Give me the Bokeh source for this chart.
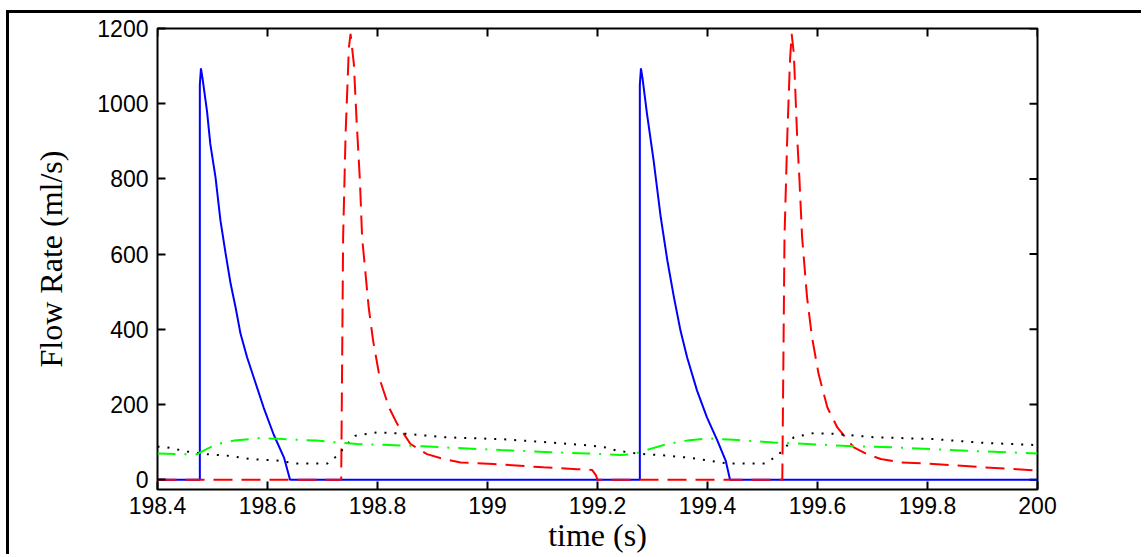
import math
from bokeh.plotting import figure
from bokeh.models import Range1d, FixedTicker
from bokeh.embed import file_html
from bokeh.resources import INLINE

# ---- data ----
blue_t = [198.400, 198.477, 198.477, 198.479, 198.482, 198.490, 198.496, 198.5055, 198.5145,
          198.524, 198.533, 198.542, 198.551, 198.563, 198.575, 198.593, 198.611, 198.630,
          198.641, 199.277, 199.277, 199.279, 199.282, 199.290, 199.302, 199.315, 199.327,
          199.339, 199.351, 199.363, 199.381, 199.399, 199.418, 199.433, 199.441, 200.000]
blue_flow = [0, 0, 1050, 1094, 1066, 980, 893, 804, 689,
             600, 521, 458, 388, 325, 272, 192, 121, 59,
             0, 0, 1050, 1094, 1066, 973, 849, 698, 583,
             485, 396, 325, 237, 166, 104, 51, 0, 0]

red_t = [198.400, 198.734, 198.7375, 198.742, 198.748, 198.751, 198.757, 198.762, 198.768,
         198.772, 198.784, 198.792, 198.805, 198.821, 198.836, 198.860, 198.890, 198.921,
         198.951, 199.011, 199.102, 199.163, 199.190, 199.197, 199.200, 199.536, 199.540,
         199.545, 199.550, 199.553, 199.557, 199.563, 199.567, 199.572, 199.581, 199.590,
         199.602, 199.618, 199.636, 199.666, 199.690, 199.715, 199.751, 199.811, 199.902,
         199.963, 200.000]
red_flow = [0, 0, 645, 920, 1150, 1186, 1106, 955, 796,
            645, 458, 370, 263, 192, 148, 95, 68, 55,
            46, 42, 33, 28, 26, 12, 0, 0, 645,
            911, 1115, 1186, 1133, 911, 804, 645, 485, 379,
            281, 192, 139, 86, 68, 55, 46, 42, 33,
            28, 24]

black_t = [198.400, 198.418, 198.454, 198.490, 198.527, 198.569, 198.618, 198.654, 198.709,
           198.727, 198.742, 198.760, 198.800, 198.854, 198.921, 199.024, 199.115, 199.193,
           199.215, 199.236, 199.266, 199.287, 199.327, 199.363, 199.399, 199.436, 199.505,
           199.527, 199.542, 199.557, 199.593, 199.630, 199.702, 199.811, 199.902, 200.000]
black_flow = [88, 86, 75, 68, 64, 55, 51, 43, 43,
              64, 90, 117, 126, 122, 113, 108, 99, 90,
              86, 77, 71, 68, 64, 59, 52, 43, 43,
              64, 86, 113, 124, 122, 113, 108, 98, 92]

green_t = [198.400, 198.436, 198.472, 198.490, 198.509, 198.539, 198.587, 198.630, 198.690,
           198.727, 198.763, 198.811, 198.884, 198.921, 199.024, 199.115, 199.181, 199.242,
           199.266, 199.296, 199.327, 199.363, 199.399, 199.448, 199.521, 199.581, 199.666,
           199.739, 199.872, 200.000]
green_flow = [70, 68, 68, 82, 95, 104, 111, 108, 104,
              99, 95, 93, 89, 86, 79, 73, 70, 66,
              68, 82, 95, 104, 110, 106, 99, 95, 89,
              86, 77, 70]

x_ticks = [198.4, 198.6, 198.8, 199.0, 199.2, 199.4, 199.6, 199.8, 200.0]
x_tick_labels = ["198.4", "198.6", "198.8", "199", "199.2", "199.4", "199.6", "199.8", "200"]
y_ticks = [0, 200, 400, 600, 800, 1000, 1200]
y_tick_labels = ["0", "200", "400", "600", "800", "1000", "1200"]

X_MIN, X_MAX = 198.4, 200.0
Y_MIN, Y_MAX = -26, 1200

p = figure(width=1135, height=544,
           x_range=Range1d(X_MIN, X_MAX), y_range=Range1d(Y_MIN, Y_MAX),
           output_backend="svg", toolbar_location=None,
           min_border_left=148, min_border_right=107,
           min_border_top=15, min_border_bottom=68)
p.margin = (10, 0, 0, 6)
p.styles = {"border-left": "3px solid black", "border-top": "3px solid black"}
p.grid.visible = False
p.outline_line_color = "black"
p.outline_line_width = 2
p.background_fill_color = "white"
p.border_fill_color = "white"


def style_axis(ax, ticks, labels):
    ax.ticker = FixedTicker(ticks=ticks)
    ax.axis_line_color = None
    ax.major_tick_in = 8
    ax.major_tick_out = 0
    ax.major_tick_line_width = 2
    ax.major_tick_line_color = "black"
    ax.minor_tick_line_color = None
    ax.major_label_overrides = dict(zip(ticks, labels))
    ax.major_label_text_font = "Liberation Sans"
    ax.major_label_text_font_size = "23px"
    ax.major_label_text_color = "black"
    ax.axis_label_text_font = "Liberation Serif"
    ax.axis_label_text_font_size = "32px"
    ax.axis_label_text_font_style = "normal"
    ax.axis_label_text_color = "black"


xa = p.xaxis[0]
ya = p.yaxis[0]
style_axis(xa, x_ticks, x_tick_labels)
style_axis(ya, y_ticks, y_tick_labels)
xa.axis_label = "time (s)"
ya.axis_label = "Flow Rate (ml/s)"
xa.major_label_standoff = 7
xa.axis_label_standoff = 0
ya.major_label_standoff = 9
ya.axis_label_standoff = 25

# mirrored inward ticks on the top and right edges (half clipped by the frame)
p.scatter(x=x_ticks, y=[Y_MAX] * len(x_ticks), marker="dash", size=16,
          angle=math.pi / 2, line_color="black", line_width=2)
p.scatter(x=[X_MAX] * len(y_ticks), y=y_ticks, marker="dash", size=16,
          line_color="black", line_width=2)

p.line(blue_t, blue_flow, line_color="#0000ff", line_width=2)
p.line(red_t, red_flow, line_color="#ff0000", line_width=2, line_dash="19 9")
p.line(black_t, black_flow, line_color="#000000", line_width=2, line_dash="2 8")
p.line(green_t, green_flow, line_color="#00ff00", line_width=2, line_dash="18 9 2 9")

open("out.html", "w").write(file_html(p, INLINE))
